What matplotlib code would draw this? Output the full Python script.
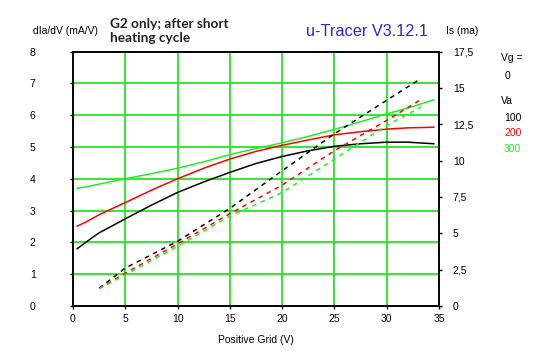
import matplotlib
matplotlib.use("Agg")
import matplotlib.pyplot as plt

# --- data ---
# dIa/dV (left axis, mA/V), solid lines
x_s = [0.4, 1.3, 2.5, 5, 7.5, 10, 12.5, 15, 17.5, 20, 22.5, 25, 27.5, 30, 32, 34.5]
black_s = [1.8, 2.02, 2.3, 2.74, 3.17, 3.57, 3.9, 4.2, 4.48, 4.7, 4.88, 5.02, 5.1, 5.15, 5.15, 5.1]
red_s = [2.51, 2.65, 2.87, 3.25, 3.64, 4.0, 4.33, 4.62, 4.86, 5.05, 5.22, 5.38, 5.48, 5.56, 5.6, 5.62]
green_s = [3.7, 3.75, 3.83, 4.0, 4.16, 4.33, 4.53, 4.76, 4.95, 5.13, 5.33, 5.55, 5.79, 6.04, 6.22, 6.48]

# Is (right axis, mA), dashed lines
x_d = [2.5, 5, 10, 15, 20, 25, 30, 33.3]
black_d = [1.22, 2.61, 4.45, 6.71, 9.3, 11.84, 14.15, 15.65]
red_d = [1.2, 2.26, 4.27, 6.35, 8.31, 10.68, 12.76, 14.2]
green_d = [1.18, 2.15, 4.1, 6.18, 7.8, 10.1, 12.41, 13.69]

x_ticks = [0, 5, 10, 15, 20, 25, 30, 35]
left_ticks = [0, 1, 2, 3, 4, 5, 6, 7, 8]
right_ticks = [0, 2.5, 5, 7.5, 10, 12.5, 15, 17.5]
right_labels = ["0", "2,5", "5", "7,5", "10", "12,5", "15", "17,5"]
va_labels = ["100", "200", "300"]

colors = ["black", "#ff0000", "#22ee22"]
GRID = "#22e622"

plt.rcParams['font.family'] = ['Liberation Sans', 'DejaVu Sans']
FS = 7.5

fig = plt.figure(figsize=(5.47, 3.57), dpi=100)
ax = fig.add_axes([73 / 547, 1 - 306 / 357, (439 - 73) / 547, (306 - 51.5) / 357])
ax2 = ax.twinx()

ax.set_xlim(0, 35)
ax.set_ylim(0, 8)
ax2.set_ylim(0, 17.5)

# grid
for xv in x_ticks[1:-1]:
    ax.axvline(xv, color=GRID, lw=1.3, zorder=1)
for yv in left_ticks[1:-1]:
    ax.axhline(yv, color=GRID, lw=1.3, zorder=1)

for ys, c in zip([black_s, red_s, green_s], colors):
    ax.plot(x_s, ys, color=c, lw=1.1, zorder=3)
for yd, c in zip([black_d, red_d, green_d], colors):
    ax2.plot(x_d, yd, color=c, lw=1.1, linestyle=(0, (3, 3)), zorder=3)

ax.set_xticks(x_ticks)
ax.set_xticklabels([str(v) for v in x_ticks], fontsize=FS)
ax.set_yticks(left_ticks)
ax.set_yticklabels([str(v) for v in left_ticks], fontsize=FS, ha='center')
ax.tick_params(axis='y', length=2, pad=27, width=1)
ax.tick_params(axis='x', length=2, pad=4, width=1)
ax2.set_yticks(right_ticks)
ax2.set_yticklabels(right_labels, fontsize=FS)
ax2.tick_params(axis='y', length=2, pad=8, width=1)

for a in (ax, ax2):
    for s in a.spines.values():
        s.set_color('black')
        s.set_linewidth(1.2)

ax.set_xlabel("Positive Grid (V)", fontsize=FS, labelpad=8)

fig.text(33 / 547, 1 - 31 / 357, "dIa/dV (mA/V)", fontsize=FS, va='center', ha='left')
fig.text(446 / 547, 1 - 31 / 357, "Is (ma)", fontsize=FS, va='center', ha='left')
fig.text(110 / 547, 1 - 31 / 357, "G2 only; after short\nheating cycle", fontsize=9.8,
         fontweight='bold', family=['Lato', 'DejaVu Sans'], color='#222222',
         va='center', ha='left', linespacing=1.25)
fig.text(367 / 547, 1 - 31 / 357, "u-Tracer V3.12.1", fontsize=11.7, color='#2828e6',
         va='center', ha='center')

fig.text(501 / 547, 1 - 58 / 357, "Vg =", fontsize=FS, va='center', ha='left')
fig.text(505 / 547, 1 - 76 / 357, "0", fontsize=FS, va='center', ha='left')
fig.text(501 / 547, 1 - 101 / 357, "Va", fontsize=FS, va='center', ha='left')
for i, (lab, c) in enumerate(zip(va_labels, colors)):
    fig.text(504 / 547, 1 - (118 + 15.5 * i) / 357, lab, fontsize=FS, color=c,
             va='center', ha='left')

fig.savefig("out.png", dpi=100, facecolor='white')
